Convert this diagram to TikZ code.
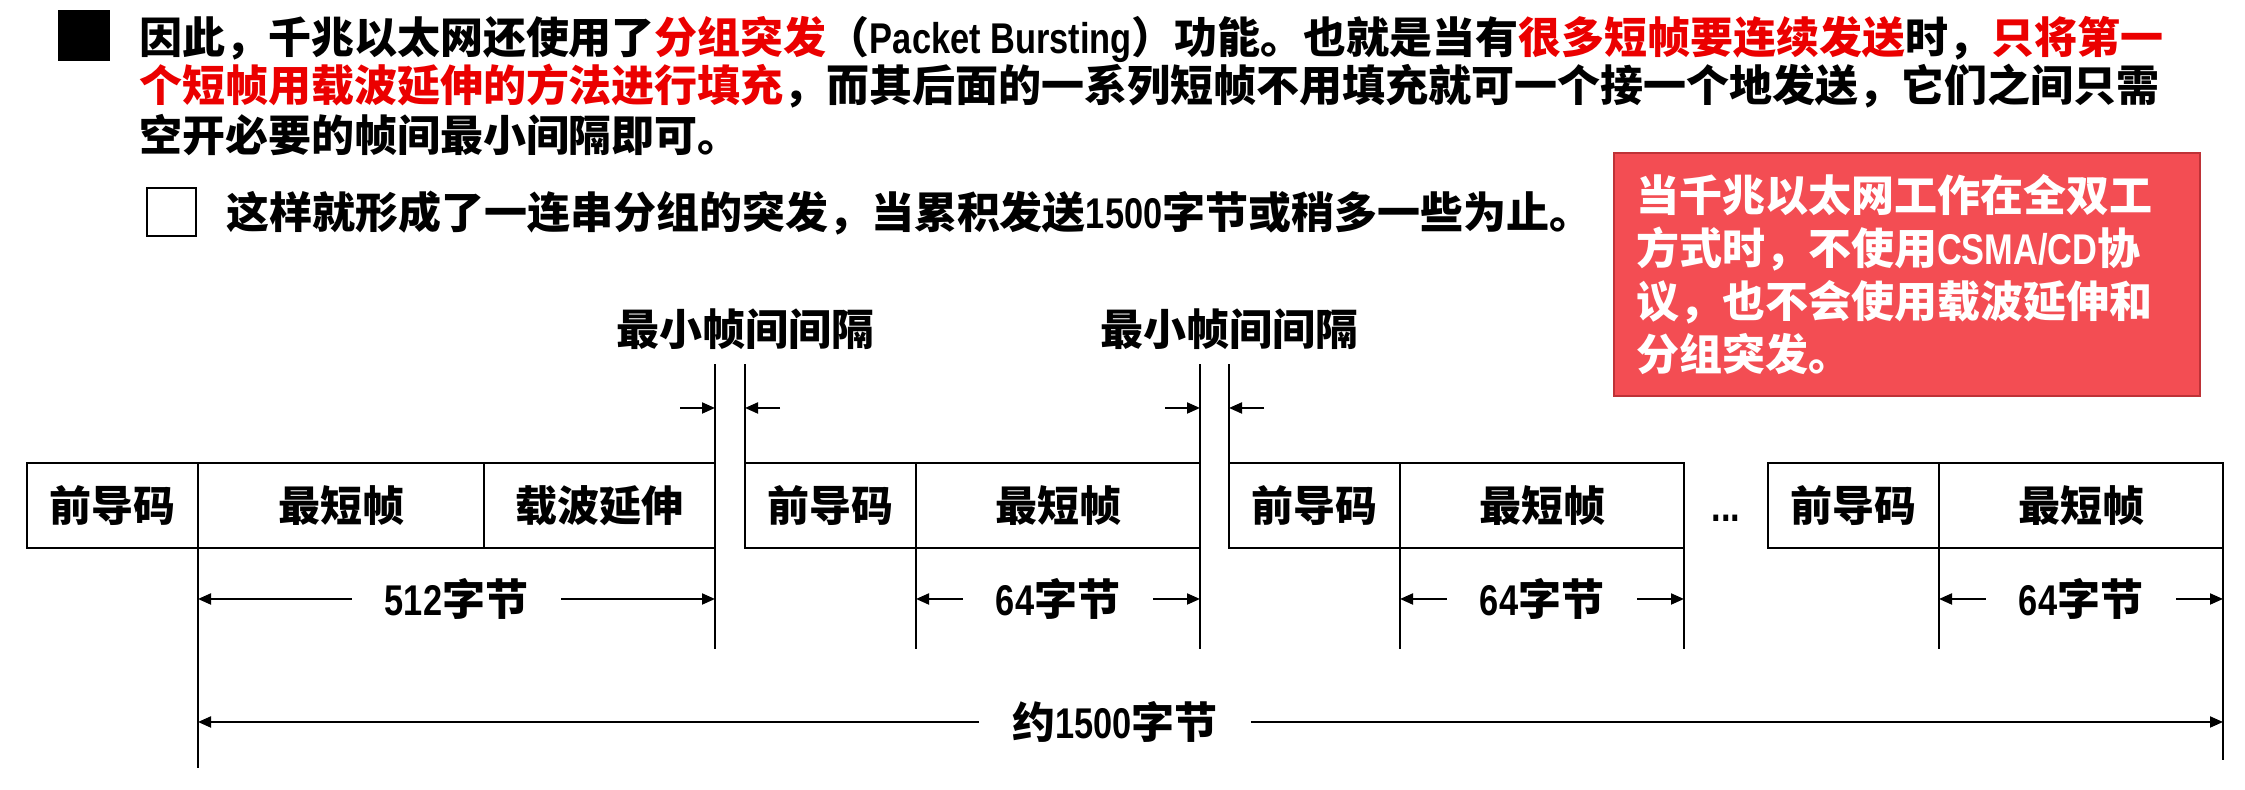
\documentclass[tikz,border=0pt]{standalone}
\usepackage{fontspec}
\setmainfont{Noto Sans CJK SC}
\newfontfamily\narrowfont{Liberation Sans}[FakeStretch=0.8]
\usepackage{xcolor}
\usetikzlibrary{arrows.meta,positioning}

\definecolor{hired}{RGB}{235,0,0}
\definecolor{boxred}{RGB}{243,77,83}
\definecolor{boxedge}{RGB}{190,50,55}
\newcommand{\nr}[1]{{\narrowfont\bfseries #1}}

\begin{document}
\begin{tikzpicture}[
		x=0.5pt, y=0.5pt,
		line width=1pt,
		txt/.style={anchor=base west, inner sep=0pt, font=\fontsize{21.5pt}{23.5pt}\selectfont\bfseries},
		cell/.style={draw, outer sep=0pt, inner sep=0pt, minimum height=42.5pt, font=\fontsize{21pt}{24pt}\selectfont\bfseries},
		lbl/.style={inner sep=0pt, font=\fontsize{21.5pt}{24pt}\selectfont\bfseries},
		dim/.style={inner xsep=16pt, inner ysep=0pt, font=\fontsize{21.5pt}{24pt}\selectfont\bfseries},
		note/.style={draw=boxedge, fill=boxred, text=white, align=left, minimum width=293pt, minimum height=121.5pt, text width=271pt, inner xsep=10.5pt, font=\fontsize{21.5pt}{26.5pt}\selectfont\bfseries},
		arr/.style={-{Triangle[length=6.5pt,width=5.5pt]}}
	]
	\useasboundingbox (0,0) rectangle (2245,790);

	\fill (58,729) rectangle (110,780);
	\node[txt] (line1) at (138,736) {因此，千兆以太网还使用了\textcolor{hired}{分组突发}（\nr{Packet Bursting}）功能。也就是当有\textcolor{hired}{很多短帧要连续发送}时，\textcolor{hired}{只将第一}};
	\node[txt] (line2) at (138,688) {\textcolor{hired}{个短帧用载波延伸的方法进行填充}，而其后面的一系列短帧不用填充就可一个接一个地发送，它们之间只需};
	\node[txt] (line3) at (138,638) {空开必要的帧间最小间隔即可。};
	\draw (147,554) rectangle (196,602);
	\node[txt] (line4) at (225,561) {这样就形成了一连串分组的突发，当累积发送\nr{1500}字节或稍多一些为止。};

	\node[note] (note) at (1907,515.5) {当千兆以太网工作在全双工\\方式时，不使用\nr{CSMA/CD}协\\议，也不会使用载波延伸和\\分组突发。};

	\node[cell, minimum width=85.5pt, anchor=west] (pre1) at (27,284.5) {前导码};
	\node[cell, minimum width=143pt, right=0pt of pre1] (short1) {最短帧};
	\node[cell, minimum width=115.5pt, right=0pt of short1] (ext1) {载波延伸};
	\foreach \i/\x in {2/745,3/1229,4/1768}{
		\node[cell, minimum width=85.5pt, anchor=west] (pre\i) at (\x,284.5) {前导码};
		\node[cell, minimum width=142pt, right=0pt of pre\i] (short\i) {最短帧};
	}
	\node[lbl, anchor=base] (dots) at (1726,268) {\nr{...}};

	\node[lbl] (gap1) at (745,461) {最小帧间间隔};
	\node[lbl] (gap2) at (1229,461) {最小帧间间隔};
	\draw (ext1.north east) -- ++(0,99) (ext1.south east) -- ++(0,-101);
	\draw (pre2.north west) -- ++(0,99);
	\draw (short2.north east) -- ++(0,99) (short2.south east) -- ++(0,-101);
	\draw (pre3.north west) -- ++(0,99);
	\draw[arr] (ext1.north east) ++(-35,55) -- ++(35,0);
	\draw[arr] (pre2.north west) ++(35,55) -- ++(-35,0);
	\draw[arr] (short2.north east) ++(-35,55) -- ++(35,0);
	\draw[arr] (pre3.north west) ++(35,55) -- ++(-35,0);

	\draw (short1.south west) -- ++(0,-220);
	\foreach \i in {2,3,4}{
		\draw (short\i.south west) -- ++(0,-101);
	}
	\draw (short3.south east) -- ++(0,-101);
	\draw (short4.south east) -- ++(0,-212);

	\node[dim] (len1) at (456.5,191) {\nr{512}字节};
	\draw[arr] (len1.west) -- (len1.west -| short1.west);
	\draw[arr] (len1.east) -- (len1.east -| ext1.east);
	\foreach \i in {2,3,4}{
		\node[dim] (len\i) at (short\i.center |- len1) {\nr{64}字节};
		\draw[arr] (len\i.west) -- (len\i.west -| short\i.west);
		\draw[arr] (len\i.east) -- (len\i.east -| short\i.east);
	}

	\node[dim] (total) at (1115,68) {约\nr{1500}字节};
	\draw[arr] (total.west) -- (total.west -| short1.west);
	\draw[arr] (total.east) -- (total.east -| short4.east);
\end{tikzpicture}
\end{document}
